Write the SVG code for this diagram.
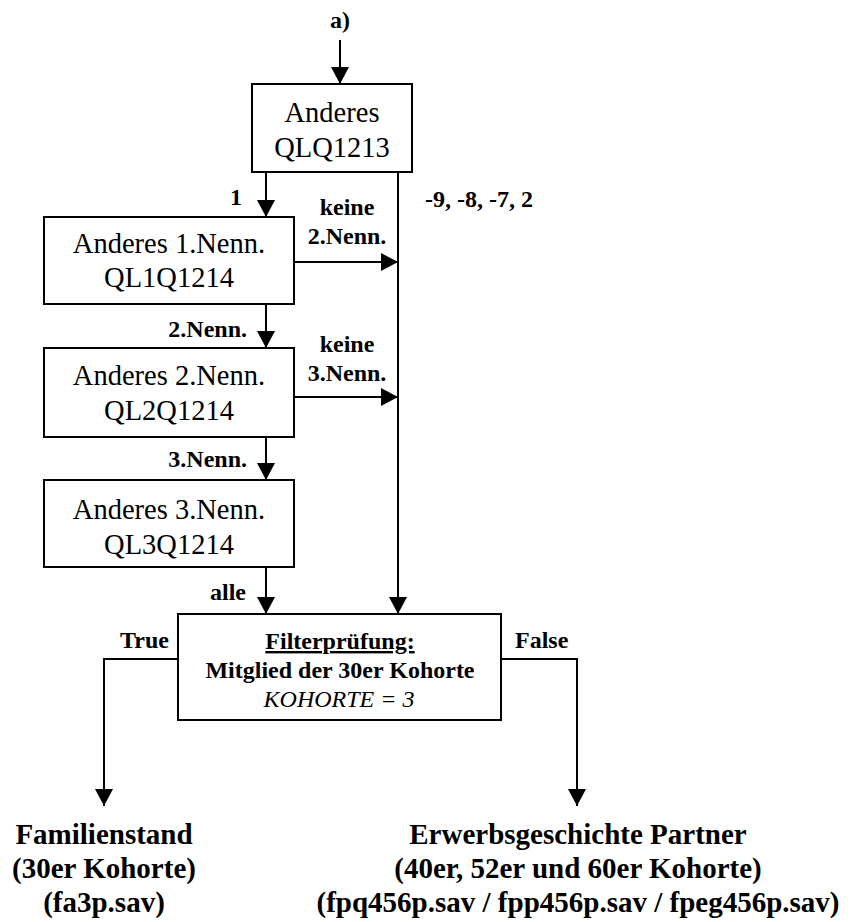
<svg xmlns="http://www.w3.org/2000/svg" width="853" height="922" viewBox="0 0 853 922">
<style>
.box{fill:#fff;stroke:#000;stroke-width:2}
.c{fill:none;stroke:#000;stroke-width:2}
text{font-family:'Liberation Serif','Times New Roman',Tinos,'DejaVu Serif',serif;fill:#000}
.t{font-size:28.5px;text-anchor:middle}
.l{font-size:24px;font-weight:bold}
.f{font-size:24px;text-anchor:middle}
.o{font-size:29px;font-weight:bold;text-anchor:middle}
</style>
<defs>
<marker id="ah" markerUnits="userSpaceOnUse" markerWidth="18" markerHeight="18" refX="17" refY="9" orient="auto" viewBox="0 0 18 18">
<path d="M0,0 L17,9 L0,18 z" fill="#000"/>
</marker>
</defs>
<rect width="853" height="922" fill="#fff"/>
<g id="connectors">
<line class="c" x1="340" y1="40" x2="340" y2="84" marker-end="url(#ah)"/>
<line class="c" x1="266" y1="172" x2="266" y2="217" marker-end="url(#ah)"/>
<line class="c" x1="398" y1="172" x2="398" y2="614" marker-end="url(#ah)"/>
<line class="c" x1="294" y1="262" x2="398" y2="262" marker-end="url(#ah)"/>
<line class="c" x1="266" y1="304" x2="266" y2="348" marker-end="url(#ah)"/>
<line class="c" x1="294" y1="397" x2="398" y2="397" marker-end="url(#ah)"/>
<line class="c" x1="266" y1="437" x2="266" y2="480" marker-end="url(#ah)"/>
<line class="c" x1="266" y1="567" x2="266" y2="614" marker-end="url(#ah)"/>
<path class="c" d="M178,659 H104 V806" marker-end="url(#ah)"/>
<path class="c" d="M501,659 H577 V806" marker-end="url(#ah)"/>
<text class="l" x="340" y="28" text-anchor="middle">a)</text>
<text class="l" x="242" y="205" text-anchor="end">1</text>
<text class="l" x="425" y="207">-9, -8, -7, 2</text>
<text class="l" x="347" y="215" text-anchor="middle">keine</text>
<text class="l" x="347" y="244" text-anchor="middle">2.Nenn.</text>
<text class="l" x="247" y="337" text-anchor="end">2.Nenn.</text>
<text class="l" x="347" y="352" text-anchor="middle">keine</text>
<text class="l" x="347" y="381" text-anchor="middle">3.Nenn.</text>
<text class="l" x="247" y="467" text-anchor="end">3.Nenn.</text>
<text class="l" x="246" y="600" text-anchor="end">alle</text>
<text class="l" x="169" y="648" text-anchor="end">True</text>
<text class="l" x="515" y="648">False</text>
</g>
<g id="n1">
<rect class="box" x="252" y="84" width="160" height="88"/>
<text class="t" x="332" y="122">Anderes</text>
<text class="t" x="332" y="157">QLQ1213</text>
</g>
<g id="n2">
<rect class="box" x="44" y="217" width="250" height="87"/>
<text class="t" x="169" y="253">Anderes 1.Nenn.</text>
<text class="t" x="169" y="287">QL1Q1214</text>
</g>
<g id="n3">
<rect class="box" x="44" y="348" width="250" height="89"/>
<text class="t" x="169" y="385">Anderes 2.Nenn.</text>
<text class="t" x="169" y="420">QL2Q1214</text>
</g>
<g id="n4">
<rect class="box" x="44" y="480" width="250" height="87"/>
<text class="t" x="169" y="519">Anderes 3.Nenn.</text>
<text class="t" x="169" y="554">QL3Q1214</text>
</g>
<g id="filter">
<rect class="box" x="178" y="614" width="323" height="106"/>
<text class="f" x="340" y="649" font-weight="bold" text-decoration="underline">Filterprüfung:</text>
<text class="f" x="340" y="678" font-weight="bold">Mitglied der 30er Kohorte</text>
<text class="f" x="339" y="707" font-style="italic">KOHORTE = 3</text>
</g>
<g id="out1">
<text class="o" x="104" y="844">Familienstand</text>
<text class="o" x="104" y="878">(30er Kohorte)</text>
<text class="o" x="104" y="912">(fa3p.sav)</text>
</g>
<g id="out2">
<text class="o" x="578" y="844">Erwerbsgeschichte Partner</text>
<text class="o" x="578" y="878">(40er, 52er und 60er Kohorte)</text>
<text class="o" x="578" y="912">(fpq456p.sav / fpp456p.sav / fpeg456p.sav)</text>
</g>
</svg>
